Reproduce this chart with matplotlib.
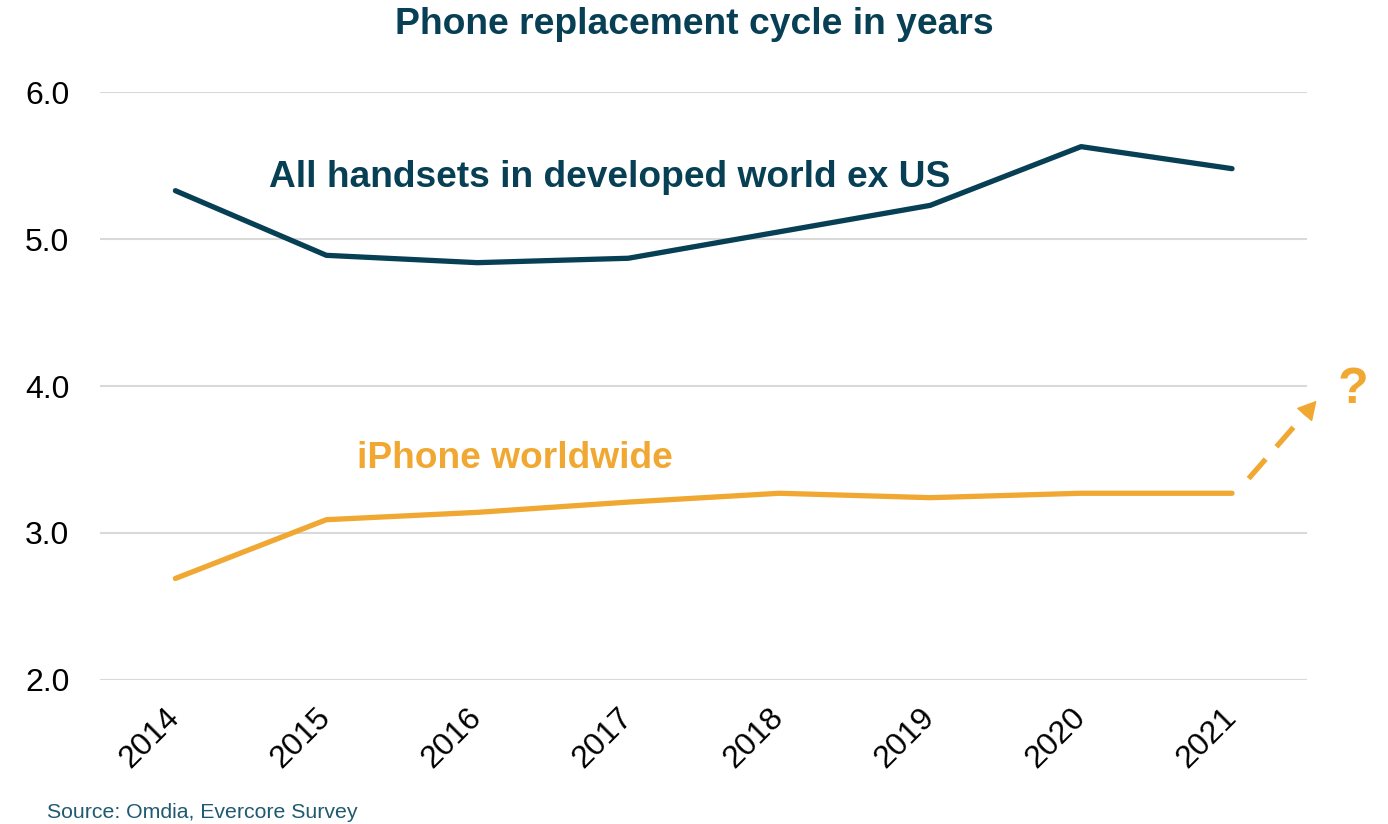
import matplotlib.pyplot as plt

plt.rcParams['font.family'] = ['Liberation Sans', 'DejaVu Sans']

years = [2014, 2015, 2016, 2017, 2018, 2019, 2020, 2021]
all_handsets = [5.33, 4.89, 4.84, 4.87, 5.05, 5.23, 5.63, 5.48]
iphone = [2.69, 3.09, 3.14, 3.21, 3.27, 3.24, 3.27, 3.27]
yticks = [2.0, 3.0, 4.0, 5.0, 6.0]

# "?" trend arrow: start, head base, tip
arrow_x = [2021.11, 2021.49, 2021.56]
arrow_y = [3.37, 3.817, 3.90]

dark = '#073F55'
orange = '#F0A832'

fig = plt.figure(figsize=(13.88, 8.24), dpi=100)
ax = fig.add_axes([0.072, 0.175, 0.870, 0.713])

ax.plot(years, all_handsets, color=dark, lw=3.8, solid_capstyle='round')
ax.plot(years, iphone, color=orange, lw=3.8, solid_capstyle='round')

# dashed arrow pointing to "?"
ax.plot(arrow_x[:2], arrow_y[:2], color=orange, lw=3.8,
        linestyle=(0, (4.9, 3.1)), dash_capstyle='butt', clip_on=False)
ax.annotate('', xy=(arrow_x[2], arrow_y[2]), xytext=(arrow_x[1], arrow_y[1]),
            annotation_clip=False,
            arrowprops=dict(arrowstyle='-|>,head_length=0.6,head_width=0.33',
                            mutation_scale=20, color=orange, lw=1,
                            shrinkA=0, shrinkB=0))
ax.text(2021.8, 3.97, '?', color=orange, fontsize=36, fontweight='bold',
        ha='center', va='center', clip_on=False)

ax.text(2014.62, 5.42, 'All handsets in developed world ex US', color=dark,
        fontsize=26.7, fontweight='bold', ha='left', va='center')
ax.text(2015.2, 3.51, 'iPhone worldwide', color=orange,
        fontsize=26.7, fontweight='bold', ha='left', va='center')

ax.set_xlim(2013.5, 2021.5)
ax.set_ylim(2.0, 6.0)
ax.set_yticks(yticks)
ax.set_yticklabels([f'{v:.1f}' for v in yticks])
ax.set_xticks(years)
ax.set_xticklabels([str(y) for y in years], rotation=45, ha='right',
                   va='center', rotation_mode='anchor')
ax.tick_params(axis='both', length=0, labelsize=23, colors='black')
ax.tick_params(axis='x', pad=24)
ax.tick_params(axis='y', pad=22)
ax.grid(axis='y', color='#d9d9d9', lw=1.5)
ax.set_axisbelow(True)
for s in ax.spines.values():
    s.set_visible(False)

fig.text(0.5, 0.97, 'Phone replacement cycle in years', color=dark,
         fontsize=26.8, fontweight='bold', ha='center', va='center')
fig.text(0.034, 0.003, 'Source: Omdia, Evercore Survey', color='#1F5A70',
         fontsize=15.3, ha='left', va='bottom')

fig.savefig('out.png', dpi=100)
